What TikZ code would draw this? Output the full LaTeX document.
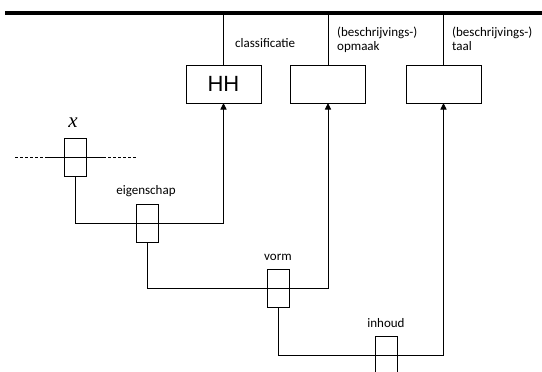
\documentclass[tikz,border=0pt]{standalone}
\usepackage{fontspec}
\setmainfont{Carlito}
\newfontfamily\hhfont{Liberation Sans}
\newfontfamily\varfont{Liberation Serif}
\usetikzlibrary{arrows.meta}
\begin{document}
\begin{tikzpicture}[x=1pt,y=-1pt,
  bigbox/.style={draw,line width=1pt,minimum width=75pt,minimum height=38pt,inner sep=0pt,outer sep=0pt},
  smallbox/.style={draw,line width=1pt,minimum width=22pt,minimum height=38pt,inner sep=0pt,outer sep=0pt},
  conn/.style={line width=0.9pt},
  arr/.style={conn,-{Triangle[width=6pt,length=6.5pt]}},
  lbl/.style={font=\fontsize{13}{13.5}\selectfont,inner sep=0pt,align=left},
  dashline/.style={line width=0.9pt,dash pattern=on 3pt off 2pt}]
\clip (0,0) rectangle (542,372);
\fill[white] (0,0) rectangle (542,372);
% top bar
\coordinate (tl) at (5,13);
\coordinate (tr) at (542,13);
\draw[line width=4pt] (tl) -- (tr);
% top boxes
\node[bigbox] (hh) at (223.5,84) {\hhfont\fontsize{22}{24}\selectfont HH};
\node[bigbox] (op) at (328,84) {};
\node[bigbox] (ta) at (443.5,84) {};
\draw[conn] (hh.north) -- (hh.north |- tl);
\draw[conn] (op.north) -- (op.north |- tl);
\draw[conn] (ta.north) -- (ta.north |- tl);
\node[lbl,anchor=west] (lcl) at (235,43) {classificatie};
\node[lbl,anchor=north west] (lop) at (337,27) {(beschrijvings-)\\opmaak};
\node[lbl,anchor=north west] (lta) at (452,27) {(beschrijvings-)\\taal};
% small boxes
\node[smallbox,minimum width=22.5pt] (xb) at (75.5,157.5) {};
\node[smallbox] (eg) at (147,223) {};
\node[smallbox] (vo) at (278,288) {};
\node[smallbox,anchor=north] (in) at (386,336) {};
% labels of small boxes
\node[inner sep=0pt,anchor=base] (xl) at (73,127) {\varfont\itshape\fontsize{21}{22}\selectfont x};
\node[lbl] (leg) at (146,191) {eigenschap};
\node[lbl] (lvo) at (278,257) {vorm};
\node[lbl] (lin) at (386,323) {inhoud};
% cross line through x box
\coordinate (xd1) at (15,157);
\coordinate (xs1) at (48,157);
\coordinate (xs2) at (103,157);
\coordinate (xd2) at (137,157);
\draw[dashline] (xd1) -- (xs1);
\draw[conn] (xs1) -- (xs2);
\draw[dashline] (xs2) -- (xd2);
% connectors
\draw[arr] (xb.south) |- (hh.south |- eg.center) -- (hh.south);
\draw[arr] (eg.south) |- (op.south |- vo.center) -- (op.south);
\draw[arr] (vo.south) |- (ta.south |- in.center) -- (ta.south);
\end{tikzpicture}
\end{document}
